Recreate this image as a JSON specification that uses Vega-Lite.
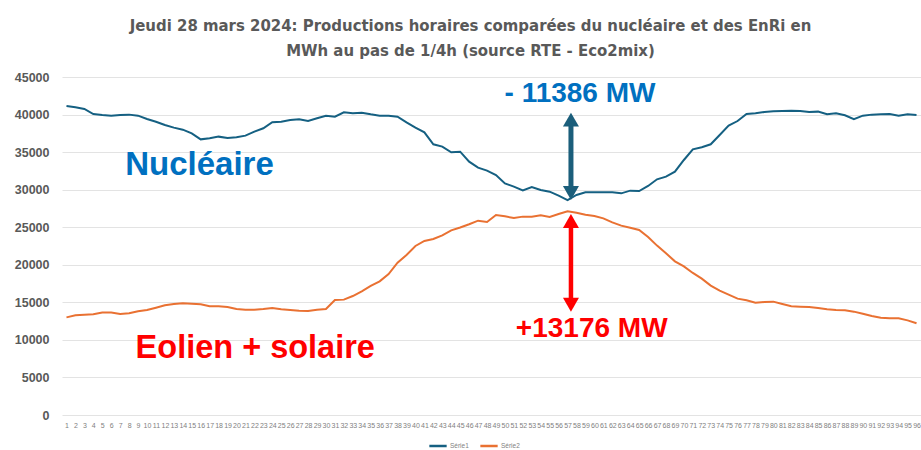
{
  "$schema": "https://vega.github.io/schema/vega-lite/v6.json",
  "width": 859,
  "height": 338,
  "autosize": {"type": "none"},
  "padding": {"left": 62, "top": 77, "right": 0, "bottom": 35},
  "background": "white",
  "config": {"view": {"stroke": null}},
  "title": {
    "text": ["Jeudi 28 mars 2024: Productions horaires comparées du nucléaire et des EnRi en", "MWh au pas de 1/4h (source RTE - Eco2mix)"],
    "font": "'Liberation Sans Narrow', 'DejaVu Sans Condensed', 'Roboto Condensed', sans-serif",
    "fontSize": 16.6,
    "fontWeight": "bold",
    "color": "#595959",
    "anchor": "middle",
    "frame": "group",
    "dx": -21,
    "offset": 11,
    "lineHeight": 25
  },
  "encoding": {
    "x": {
      "field": "q",
      "type": "quantitative",
      "scale": {"domain": [0.5, 96.5], "nice": false, "zero": false},
      "axis": {
        "title": null,
        "values": [1,2,3,4,5,6,7,8,9,10,11,12,13,14,15,16,17,18,19,20,21,22,23,24,25,26,27,28,29,30,31,32,33,34,35,36,37,38,39,40,41,42,43,44,45,46,47,48,49,50,51,52,53,54,55,56,57,58,59,60,61,62,63,64,65,66,67,68,69,70,71,72,73,74,75,76,77,78,79,80,81,82,83,84,85,86,87,88,89,90,91,92,93,94,95,96],
        "format": "d",
        "grid": false,
        "domain": false,
        "ticks": false,
        "labelFont": "Liberation Sans",
        "labelFontSize": 7,
        "labelColor": "#7f7f7f",
        "labelPadding": 6,
        "labelOverlap": false,
        "labelFlush": false,
        "labelBound": false
      }
    },
    "y": {
      "field": "v",
      "type": "quantitative",
      "scale": {"domain": [0, 45000], "nice": false},
      "axis": {
        "title": null,
        "values": [0,5000,10000,15000,20000,25000,30000,35000,40000,45000],
        "format": "d",
        "domain": false,
        "ticks": false,
        "labelFont": "Liberation Sans",
        "labelFontWeight": "bold",
        "labelFontSize": 12.5,
        "labelColor": "#595959",
        "labelPadding": 13,
        "gridColor": "#e3e3e3",
        "gridWidth": 1
      }
    }
  },
  "layer": [
    {
      "data": {"values": [
        {"q":1,"Série1":41140,"Série2":13000},{"q":2,"Série1":40960,"Série2":13270},{"q":3,"Série1":40740,"Série2":13360},{"q":4,"Série1":40070,"Série2":13400},
        {"q":5,"Série1":39940,"Série2":13630},{"q":6,"Série1":39850,"Série2":13630},{"q":7,"Série1":39940,"Série2":13450},{"q":8,"Série1":39990,"Série2":13540},
        {"q":9,"Série1":39850,"Série2":13800},{"q":10,"Série1":39410,"Série2":13980},{"q":11,"Série1":39050,"Série2":14290},{"q":12,"Série1":38610,"Série2":14600},
        {"q":13,"Série1":38260,"Série2":14780},{"q":14,"Série1":37990,"Série2":14870},{"q":15,"Série1":37500,"Série2":14820},{"q":16,"Série1":36700,"Série2":14730},
        {"q":17,"Série1":36840,"Série2":14470},{"q":18,"Série1":37060,"Série2":14470},{"q":19,"Série1":36880,"Série2":14380},{"q":20,"Série1":36970,"Série2":14110},
        {"q":21,"Série1":37190,"Série2":14020},{"q":22,"Série1":37720,"Série2":14020},{"q":23,"Série1":38170,"Série2":14110},{"q":24,"Série1":38970,"Série2":14250},
        {"q":25,"Série1":39050,"Série2":14070},{"q":26,"Série1":39280,"Série2":13980},{"q":27,"Série1":39370,"Série2":13890},{"q":28,"Série1":39140,"Série2":13850},
        {"q":29,"Série1":39500,"Série2":14020},{"q":30,"Série1":39850,"Série2":14110},{"q":31,"Série1":39720,"Série2":15310},{"q":32,"Série1":40300,"Série2":15360},
        {"q":33,"Série1":40160,"Série2":15840},{"q":34,"Série1":40250,"Série2":16470},{"q":35,"Série1":40030,"Série2":17180},{"q":36,"Série1":39850,"Série2":17800},
        {"q":37,"Série1":39850,"Série2":18770},{"q":38,"Série1":39720,"Série2":20280},{"q":39,"Série1":38970,"Série2":21300},{"q":40,"Série1":38260,"Série2":22500},
        {"q":41,"Série1":37630,"Série2":23170},{"q":42,"Série1":36040,"Série2":23430},{"q":43,"Série1":35730,"Série2":23920},{"q":44,"Série1":34970,"Série2":24590},
        {"q":45,"Série1":35060,"Série2":24960},{"q":46,"Série1":33730,"Série2":25390},{"q":47,"Série1":32930,"Série2":25870},{"q":48,"Série1":32530,"Série2":25700},
        {"q":49,"Série1":31950,"Série2":26630},{"q":50,"Série1":30840,"Série2":26450},{"q":51,"Série1":30400,"Série2":26230},{"q":52,"Série1":29910,"Série2":26410},
        {"q":53,"Série1":30360,"Série2":26410},{"q":54,"Série1":29960,"Série2":26580},{"q":55,"Série1":29730,"Série2":26360},{"q":56,"Série1":29200,"Série2":26760},
        {"q":57,"Série1":28620,"Série2":27120},{"q":58,"Série1":29290,"Série2":26940},{"q":59,"Série1":29650,"Série2":26670},{"q":60,"Série1":29650,"Série2":26500},
        {"q":61,"Série1":29650,"Série2":26180},{"q":62,"Série1":29650,"Série2":25650},{"q":63,"Série1":29510,"Série2":25210},{"q":64,"Série1":29870,"Série2":24940},
        {"q":65,"Série1":29820,"Série2":24630},{"q":66,"Série1":30490,"Série2":23700},{"q":67,"Série1":31380,"Série2":22550},{"q":68,"Série1":31730,"Série2":21530},
        {"q":69,"Série1":32400,"Série2":20460},{"q":70,"Série1":33950,"Série2":19790},{"q":71,"Série1":35370,"Série2":18910},{"q":72,"Série1":35640,"Série2":18150},
        {"q":73,"Série1":36040,"Série2":17220},{"q":74,"Série1":37280,"Série2":16550},{"q":75,"Série1":38520,"Série2":16020},{"q":76,"Série1":39140,"Série2":15490},
        {"q":77,"Série1":40080,"Série2":15270},{"q":78,"Série1":40160,"Série2":14960},{"q":79,"Série1":40340,"Série2":15050},{"q":80,"Série1":40430,"Série2":15090},
        {"q":81,"Série1":40480,"Série2":14780},{"q":82,"Série1":40520,"Série2":14470},{"q":83,"Série1":40480,"Série2":14420},{"q":84,"Série1":40340,"Série2":14380},
        {"q":85,"Série1":40390,"Série2":14250},{"q":86,"Série1":40030,"Série2":14070},{"q":87,"Série1":40160,"Série2":13980},{"q":88,"Série1":39900,"Série2":13940},
        {"q":89,"Série1":39370,"Série2":13760},{"q":90,"Série1":39850,"Série2":13490},{"q":91,"Série1":39990,"Série2":13180},{"q":92,"Série1":40030,"Série2":12960},
        {"q":93,"Série1":40080,"Série2":12870},{"q":94,"Série1":39850,"Série2":12870},{"q":95,"Série1":40030,"Série2":12600},{"q":96,"Série1":39940,"Série2":12210}
      ]},
      "transform": [{"fold": ["Série1", "Série2"], "as": ["serie", "v"]}],
      "mark": {"type": "line", "strokeWidth": 2, "interpolate": "linear"},
      "encoding": {
        "color": {
          "field": "serie",
          "type": "nominal",
          "scale": {"domain": ["Série1", "Série2"], "range": ["#156082", "#E97132"]},
          "legend": {
            "title": null,
            "orient": "none",
            "legendX": 366,
            "legendY": 359,
            "direction": "horizontal",
            "symbolType": "stroke",
            "symbolSize": 300,
            "symbolStrokeWidth": 2.5,
            "labelFont": "Liberation Sans",
            "labelFontSize": 6.5,
            "labelColor": "#7f7f7f",
            "columnPadding": 6,
            "labelOffset": 2
          }
        }
      }
    },
    {
      "data": {"values": [{"q": 57.38, "v": 39320, "v2": 29555}]},
      "mark": {"type": "rule", "color": "#1B5E7B", "strokeWidth": 5},
      "encoding": {"y2": {"field": "v2"}}
    },
    {
      "data": {"values": [{"q": 57.38, "v": 39320, "bout": "haut"}, {"q": 57.38, "v": 29555, "bout": "bas"}]},
      "mark": {"type": "point", "filled": true, "opacity": 1, "color": "#1B5E7B", "size": 256, "strokeWidth": 0},
      "encoding": {"shape": {"field": "bout", "type": "nominal", "scale": {"domain": ["haut", "bas"], "range": ["triangle-up", "triangle-down"]}, "legend": null}}
    },
    {
      "data": {"values": [{"q": 57.38, "v": 25831, "v2": 14685}]},
      "mark": {"type": "rule", "color": "#FF0000", "strokeWidth": 4.5},
      "encoding": {"y2": {"field": "v2"}}
    },
    {
      "data": {"values": [{"q": 57.38, "v": 25831, "bout": "haut"}, {"q": 57.38, "v": 14685, "bout": "bas"}]},
      "mark": {"type": "point", "filled": true, "opacity": 1, "color": "#FF0000", "size": 256, "strokeWidth": 0},
      "encoding": {"shape": {"field": "bout", "type": "nominal", "scale": {"domain": ["haut", "bas"], "range": ["triangle-up", "triangle-down"]}, "legend": null}}
    },
    {
      "data": {"values": [{"q": 15.87, "v": 31950, "label": "Nucléaire"}]},
      "mark": {"type": "text", "font": "Liberation Sans", "fontWeight": "bold", "fontSize": 33, "color": "#0070C0", "align": "center", "baseline": "alphabetic"},
      "encoding": {"text": {"field": "label"}}
    },
    {
      "data": {"values": [{"q": 22.1, "v": 7549, "label": "Eolien + solaire"}]},
      "mark": {"type": "text", "font": "Liberation Sans", "fontWeight": "bold", "fontSize": 32.5, "color": "#FF0000", "align": "center", "baseline": "alphabetic"},
      "encoding": {"text": {"field": "label"}}
    },
    {
      "data": {"values": [{"q": 58.39, "v": 41712, "label": "- 11386 MW"}]},
      "mark": {"type": "text", "font": "Liberation Sans", "fontWeight": "bold", "fontSize": 28, "color": "#0070C0", "align": "center", "baseline": "alphabetic"},
      "encoding": {"text": {"field": "label"}}
    },
    {
      "data": {"values": [{"q": 59.7, "v": 10345, "label": "+13176 MW"}]},
      "mark": {"type": "text", "font": "Liberation Sans", "fontWeight": "bold", "fontSize": 28, "color": "#FF0000", "align": "center", "baseline": "alphabetic"},
      "encoding": {"text": {"field": "label"}}
    }
  ]
}
